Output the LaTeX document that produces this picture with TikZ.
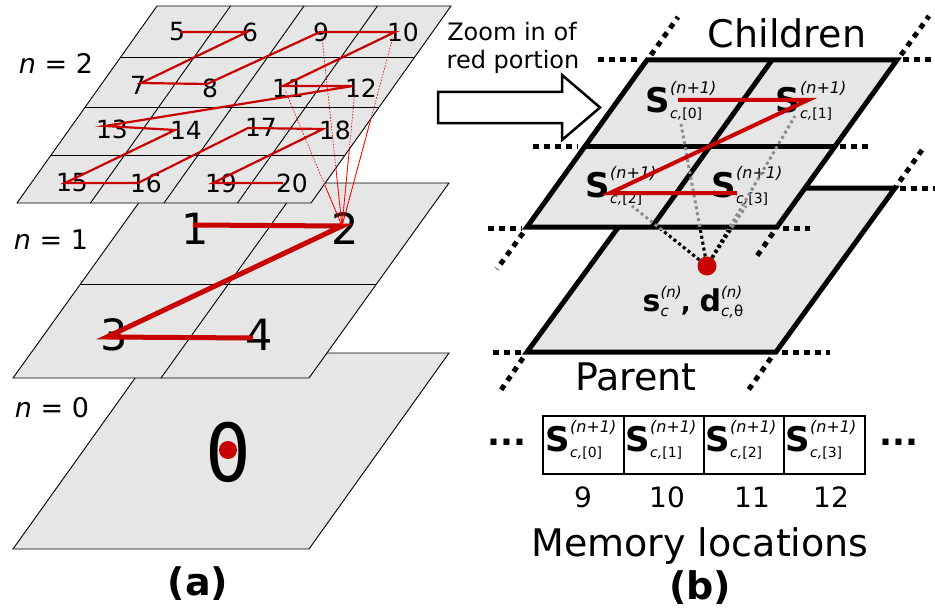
\documentclass[tikz,border=0pt]{standalone}
\usepackage{fontspec}
\setmainfont{DejaVu Sans}
\newfontfamily\zerofont{DejaVu Sans Mono}
\usetikzlibrary{calc}
\definecolor{pg}{RGB}{230,230,230}
\definecolor{dred}{RGB}{200,0,0}
\definecolor{dgray}{RGB}{140,140,140}
\newcommand\fs[1]{\fontsize{#1}{#1}\selectfont}
\newcommand\Slab[1]{{\fs{34}\bfseries S}\kern0.5pt\makebox[0pt][l]{\raisebox{19pt}{\fs{16}\itshape (n+1)}}\raisebox{-6pt}{\fs{14}\itshape c,\upshape[#1]}}
\newcommand\Plab{{\fs{30}\bfseries s}\makebox[0pt][l]{\raisebox{14pt}{\fs{15}\itshape (n)}}\raisebox{-5pt}{\fs{15}\itshape c}\kern12pt{\fs{26}\bfseries ,}\kern9pt{\fs{30}\bfseries d}\makebox[0pt][l]{\raisebox{14pt}{\fs{15}\itshape (n)}}\raisebox{-5pt}{\fs{15}\itshape c,\upshape θ}}
\begin{document}
\begin{tikzpicture}[x=1pt,y=-1pt,
  thinplane/.style={draw=black,fill=pg,line width=0.9pt,line join=miter},
  thingrid/.style={draw=black,line width=0.9pt},
  bigplane/.style={draw=black,fill=pg,line width=5pt,line join=miter},
  biggrid/.style={draw=black,line width=5pt},
  sqdots/.style={draw=black,line width=5pt,dash pattern=on 5.5pt off 5.5pt},
  redthin/.style={draw=dred,line width=2.2pt},
  redthick/.style={draw=dred,line width=5pt},
  redmid/.style={draw=dred,line width=4pt},
  redhair/.style={draw=red,line width=0.7pt},
  graydots/.style={draw=dgray,line width=3pt,dash pattern=on 3pt off 3pt},
  blackdots/.style={draw=black,line width=3pt,dash pattern=on 3pt off 3pt},
  num2/.style={font=\fs{25}},
  num1/.style={font=\fs{43}},
  lvl/.style={font=\fs{27}},
  caption/.style={font=\fs{38}\bfseries},
  big/.style={font=\fs{38}},
  slab/.style={anchor=base west,inner sep=0pt}]
\useasboundingbox (0,0) rectangle (935,610);

% ---------------- (a) n = 0 ----------------
\coordinate (z0a) at (153,353);
\coordinate (z0b) at (449,353);
\coordinate (z0c) at (309,549);
\coordinate (z0d) at (13,549);
\draw[thinplane] (z0a)--(z0b)--(z0c)--(z0d)--cycle;
\node[font=\zerofont\fs{80},inner sep=0pt,xscale=0.95] (zero) at (228,452) {0};
\node[circle,fill=dred,minimum size=18pt,inner sep=0pt] (dot0) at (228,450) {};

% ---------------- (a) n = 1 ----------------
\coordinate (o1a) at (153,183);
\coordinate (o1b) at (449,183);
\coordinate (o1c) at (309,378);
\coordinate (o1d) at (13,378);
\draw[thinplane] (o1a)--(o1b)--(o1c)--(o1d)--cycle;
\draw[thingrid] ($(o1a)!.5!(o1b)$) -- ($(o1d)!.5!(o1c)$);
\draw[thingrid] ($(o1a)!.52!(o1d)$) -- ($(o1b)!.52!(o1c)$);
\node[num1] (n1) at (195,229) {1};
\node[num1] (n2) at (345,229) {2};
\node[num1] (n3) at (114,335) {3};
\node[num1] (n4) at (259,335) {4};
\coordinate (e1) at (193,225);
\coordinate (e2) at (342,226);
\coordinate (e3) at (107,337);
\coordinate (e4) at (253,338);
\draw[redthick] (e1) -- (e2) -- (e3) -- (e4);

% ---------------- (a) n = 2 ----------------
\coordinate (t2a) at (157,6);
\coordinate (t2b) at (451,6);
\coordinate (t2c) at (311,203);
\coordinate (t2d) at (17,203);
\draw[thinplane] (t2a)--(t2b)--(t2c)--(t2d)--cycle;
\foreach \k in {0.25,0.5,0.75}{
  \draw[thingrid] ($(t2a)!\k!(t2b)$) -- ($(t2d)!\k!(t2c)$);}
\foreach \k in {0.259,0.513,0.761}{
  \draw[thingrid] ($(t2a)!\k!(t2d)$) -- ($(t2b)!\k!(t2c)$);}
\node[num2] (l5) at (177,32) {5};
\node[num2] (l6) at (250,32) {6};
\node[num2] (l9) at (321,32) {9};
\node[num2] (l10) at (403,32) {10};
\node[num2] (l7) at (138,85) {7};
\node[num2] (l8) at (210,88) {8};
\node[num2] (l11) at (288,88) {11};
\node[num2] (l12) at (361,88) {12};
\node[num2] (l13) at (112,129) {13};
\node[num2] (l14) at (186,130) {14};
\node[num2] (l17) at (261,127) {17};
\node[num2] (l18) at (335,130) {18};
\node[num2] (l15) at (72,183) {15};
\node[num2] (l16) at (146,183) {16};
\node[num2] (l19) at (221,183) {19};
\node[num2] (l20) at (292,183) {20};
\coordinate (e5) at (180,32);
\coordinate (e6) at (247,32);
\coordinate (e7) at (141,83);
\coordinate (e8) at (207,84);
\coordinate (e9) at (320,32);
\coordinate (e10) at (395,32);
\coordinate (e11) at (283,86);
\coordinate (e12) at (353,86);
\coordinate (e13) at (105,126);
\coordinate (e14) at (175,130);
\coordinate (e15) at (65,183);
\coordinate (e16) at (138,183);
\coordinate (e17) at (248,128);
\coordinate (e18) at (323,129);
\coordinate (e19) at (213,183);
\coordinate (e20) at (283,183);
\draw[redthin] (e5)--(e6)--(e7)--(e8)--(e9)--(e10)--(e11)--(e12)--(e13)--(e14)--(e15)--(e16)--(e17)--(e18)--(e19)--(e20);

% fan of thin red lines from 2 to 9..12
\coordinate (f9) at (322,37);
\coordinate (f10) at (393,37);
\coordinate (f11) at (285,90);
\coordinate (f12) at (355,90);
\foreach \f in {f9,f10,f11,f12}{
  \draw[redhair,dash pattern=on 1.5pt off 1.5pt] (e2) -- (\f);}
\begin{scope}
  \clip (451,6)--(480,6)--(480,240)--(250,240)--(250,203)--(311,203)--cycle;
  \foreach \f in {f9,f10,f11,f12}{
    \draw[redhair] (e2) -- (\f);}
\end{scope}

% level labels
\node[lvl] (lv2) at (56,63) {\itshape n\upshape\ = 2};
\node[lvl] (lv1) at (51,240) {\itshape n\upshape\ = 1};
\node[lvl] (lv0) at (52,408) {\itshape n\upshape\ = 0};
\node[caption] (capa) at (198,584) {(a)};

% ---------------- zoom arrow ----------------
\draw[line width=2.5pt,line join=miter,fill=white] (438,92)--(562,92)--(562,75)--(600,107.5)--(562,140)--(562,123)--(438,123)--cycle;
\node[font=\fs{24}] (zt1) at (512,32) {Zoom in of};
\node[font=\fs{24}] (zt2) at (513,62) {red portion};

% ---------------- (b) parent ----------------
\coordinate (pa) at (647,188);
\coordinate (pb) at (895,188);
\coordinate (pc) at (776,352);
\coordinate (pd) at (527,352);
\draw[bigplane] (pa)--(pb)--(pc)--(pd)--cycle;
\draw[sqdots] (922,150) -- (pb);
\draw[sqdots] (900,188) -- (935,188);
\draw[sqdots] (493,352) -- (522,352);
\draw[sqdots] (782,352) -- (830,352);
\draw[sqdots] (523,358) -- (501,390);
\draw[sqdots] (771,358) -- (747,392);
\node[inner sep=0pt] (plab) at (693,302) {\Plab};
\node[big] (parent) at (636,377) {Parent};

% ---------------- (b) children ----------------
\coordinate (ca) at (647,60);
\coordinate (cb) at (897,60);
\coordinate (cc) at (777,227);
\coordinate (cd) at (527,227);
\draw[bigplane] (ca)--(cb)--(cc)--(cd)--cycle;
\draw[biggrid] ($(ca)!.5!(cb)$) -- ($(cd)!.5!(cc)$);
\draw[biggrid] ($(ca)!.515!(cd)$) -- ($(cb)!.515!(cc)$);
\draw[sqdots] (598,60) -- (641,60);
\draw[sqdots] (903,60) -- (935,60);
\draw[sqdots] (651,55) -- (678,17);
\draw[sqdots] (901,55) -- (929,16);
\draw[sqdots] (533,146) -- (578,146);
\draw[sqdots] (840,146) -- (872,146);
\draw[sqdots] (488,228) -- (522,228);
\draw[sqdots] (783,228) -- (810,228);
\draw[sqdots] (523,233) -- (497,269);
\draw[sqdots] (773,233) -- (757,256);
\node[big] (children) at (787,33) {Children};

% labels in children cells
\node[slab] (s0) at (645,112) {\Slab{0}};
\node[slab] (s1) at (775,112) {\Slab{1}};
\node[slab] (s2) at (585,197) {\Slab{2}};
\node[slab] (s3) at (711,197) {\Slab{3}};

% dotted links from parent dot to children
\node[circle,fill=dred,minimum size=19pt,inner sep=0pt] (pdot) at (707,266) {};
\coordinate (g0) at (681,124);
\coordinate (g1) at (795,116);
\coordinate (g2) at (632,206);
\coordinate (g3) at (746,206);
\foreach \g in {g0,g1,g2,g3}{
  \draw[graydots] (pdot) -- (\g);}
\begin{scope}
  \clip (480,230) rectangle (935,262);
  \foreach \g in {g0,g1,g2,g3}{
    \draw[blackdots] (pdot) -- (\g);}
\end{scope}

% red zigzag in children
\coordinate (r0) at (678,100);
\coordinate (r1) at (808,100);
\coordinate (r2) at (610,193);
\coordinate (r3) at (737,193);
\draw[redmid] (r0) -- (r1) -- (r2) -- (r3);

% ---------------- memory row ----------------
\draw[line width=2pt] (543,416) rectangle (865,474);
\foreach \xx in {624,704,784}{
  \draw[line width=1.5pt] (\xx,416) -- (\xx,474);}
\node[slab] (m0) at (545,451) {\Slab{0}};
\node[slab] (m1) at (625,451) {\Slab{1}};
\node[slab] (m2) at (705,451) {\Slab{2}};
\node[slab] (m3) at (785,451) {\Slab{3}};
\node[font=\fs{34}\bfseries] (ldots) at (507,442) {...};
\node[font=\fs{34}\bfseries] (rdots) at (899,442) {...};
\node[font=\fs{28}] (a9) at (583,497) {9};
\node[font=\fs{28}] (a10) at (667,497) {10};
\node[font=\fs{28}] (a11) at (752,497) {11};
\node[font=\fs{28}] (a12) at (831,497) {12};
\node[big] (memloc) at (700,546) {Memory locations};
\node[caption] (capb) at (700,588) {(b)};
\end{tikzpicture}
\end{document}
